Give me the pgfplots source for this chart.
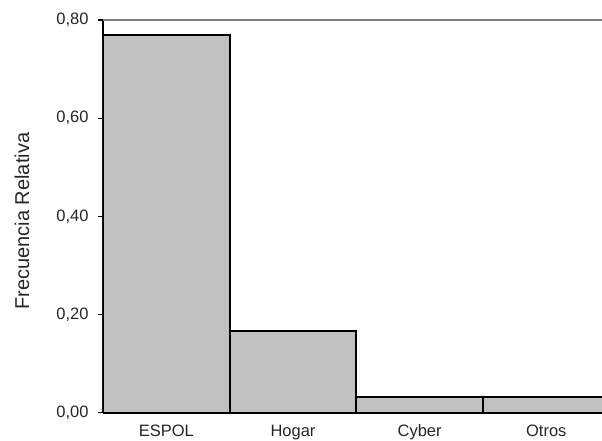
\documentclass[border=0pt]{standalone}
\usepackage{pgfplots}
\pgfplotsset{compat=1.18}
\usepackage{fontspec}
\setmainfont{Liberation Sans}
\definecolor{barfill}{RGB}{192,192,192}
\definecolor{topline}{RGB}{128,128,128}
\begin{document}
\begin{tikzpicture}
\path[use as bounding box] (-103bp,-28.3bp) rectangle (499bp,412.7bp);
\begin{axis}[
  name=ax,
  at={(0,0)}, anchor=south west,
  scale only axis, width=499bp, height=392.7bp,
  xmin=-0.5, xmax=3.44, ymin=0, ymax=0.8,
  axis x line*=bottom, axis y line*=left,
  axis line style={black, line width=1.8bp, -},
  tick align=outside,
  tick style={black, line width=1.2bp},
  major tick length=5bp, minor tick length=5bp,
  xtick={0,1,2,3},
  xticklabels={ESPOL,Hogar,Cyber,Otros},
  x tick style={draw=none},
  minor xtick={-0.5,0.5,1.5,2.5},
  ytick={0,0.2,0.4,0.6,0.8},
  yticklabels={{0,00},{0,20},{0,40},{0,60},{0,80}},
  ticklabel style={font=\fontsize{16.5bp}{20bp}\selectfont, text=black!85},
  yticklabel style={xshift=-6bp},
  xticklabel style={yshift=-3.5bp},
  ylabel={\fontsize{20bp}{24bp}\selectfont Frecuencia Relativa},
  ylabel style={at={(axis description cs:-0.1623,0.4878)}, anchor=center, text=black!85},
  clip=true,
]
\addplot[ybar, bar width=1, fill=barfill, draw=black, line width=1.9bp]
  coordinates {(0,0.769) (1,0.166) (2,0.032) (3,0.032)};
\end{axis}
\draw[topline, line width=1.6bp] (ax.north west) -- (ax.north east);
\end{tikzpicture}
\end{document}
